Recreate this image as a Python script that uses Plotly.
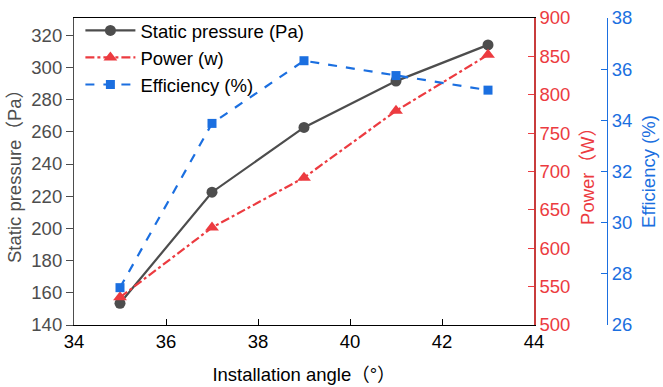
import plotly.graph_objects as go

angle = [35, 37, 39, 41, 43]
static_pressure = [153.5, 222.5, 262.7, 291.5, 314]
power = [536, 627, 692, 779, 852]
efficiency = [27.46, 33.88, 36.33, 35.75, 35.18]

GRAY = "#4d4d4d"
RED = "#ec3b40"
BLUE = "#1b6fe0"
FONT = "Liberation Sans, Arial, Noto Sans CJK SC"
FS = 18.5

fig = go.Figure()
fig.add_trace(go.Scatter(x=angle, y=static_pressure, name="Static pressure (Pa)",
                         mode="lines+markers", line=dict(color=GRAY, width=2.2),
                         marker=dict(symbol="circle", size=11, color=GRAY)))
fig.add_trace(go.Scatter(x=angle, y=power, name="Power (w)", yaxis="y2",
                         mode="lines+markers", line=dict(color=RED, width=2.2, dash="dashdot"),
                         marker=dict(symbol="triangle-up", size=12, color=RED)))
fig.add_trace(go.Scatter(x=angle, y=efficiency, name="Efficiency (%)", yaxis="y3",
                         mode="lines+markers", line=dict(color=BLUE, width=2.2, dash="dash"),
                         marker=dict(symbol="square", size=9, color=BLUE)))

fig.update_layout(
    width=663, height=387,
    margin=dict(l=74, r=56, t=16, b=62),
    paper_bgcolor="white", plot_bgcolor="white",
    font=dict(family=FONT, size=FS, color="black"),
    showlegend=True,
    legend=dict(x=0.012, y=1.02, xanchor="left", yanchor="top",
                bgcolor="rgba(0,0,0,0)", font=dict(size=FS, color="black"),
                tracegroupgap=0, itemwidth=50),
    xaxis=dict(domain=[0, 460/533], range=[34, 44], dtick=2, tick0=34, automargin=False,
               showgrid=False, zeroline=False, showline=True, linecolor="black", linewidth=1.2,
               mirror=True, ticks="inside", ticklen=6, tickcolor="black",
               tickfont=dict(size=FS, color="black"),
               title=dict(text="Installation angle（°）", font=dict(size=FS, color="black"), standoff=16)),
    yaxis=dict(range=[140, 330.7], dtick=20, tick0=140, automargin=False,
               showgrid=False, zeroline=False, showline=True, linecolor=GRAY, linewidth=1.2,
               ticks="outside", ticklen=7, tickcolor=GRAY,
               tickfont=dict(size=FS, color=GRAY),
               title=dict(text="Static pressure（Pa）", font=dict(size=FS, color=GRAY), standoff=4)),
    yaxis2=dict(overlaying="y", side="right", anchor="x", range=[500, 900], dtick=50, automargin=False,
                showgrid=False, zeroline=False, showline=True, linecolor="#c83c3c", linewidth=1.5,
                ticks="inside", ticklen=6, tickcolor=RED,
                tickfont=dict(size=FS, color=RED),
                title=dict(text="Power（W）", font=dict(size=FS, color=RED), standoff=12)),
    yaxis3=dict(overlaying="y", side="right", anchor="free", position=1.0, range=[26, 38], dtick=2,
                automargin=False,
                showgrid=False, zeroline=False, showline=True, linecolor=BLUE, linewidth=1.2,
                ticks="inside", ticklen=6, tickcolor=BLUE,
                tickfont=dict(size=FS, color=BLUE),
                title=dict(text="Efficiency (%)", font=dict(size=FS, color=BLUE), standoff=10)),
)

fig.write_html("out.html")
